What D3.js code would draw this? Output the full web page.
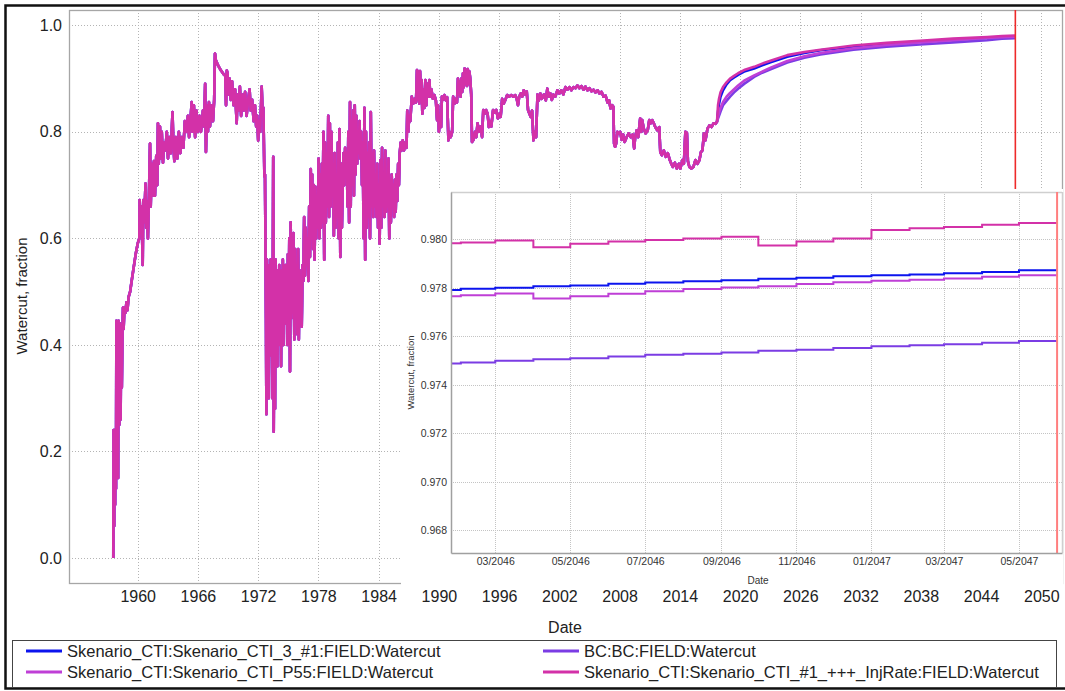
<!DOCTYPE html>
<html>
<head>
<meta charset="utf-8">
<script src="https://cdn.jsdelivr.net/npm/d3@7"></script>
<style>
  body { margin: 0; background: #ffffff; }
  svg { display: block; font-family: "Liberation Sans", Arial, sans-serif; }
</style>
</head>
<body>
<script>
// ---------- data ----------
const seriesNames = [
  "Skenario_CTI:Skenario_CTI_3_#1:FIELD:Watercut",
  "BC:BC:FIELD:Watercut",
  "Skenario_CTI:Skenario_CTI_P55:FIELD:Watercut",
  "Skenario_CTI:Skenario_CTI_#1_+++_InjRate:FIELD:Watercut"
];

const yearTicks = [1960, 1966, 1972, 1978, 1984, 1990, 1996, 2002, 2008, 2014, 2020, 2026, 2032, 2038, 2044, 2050];
const watercutTicks = [0.0, 0.2, 0.4, 0.6, 0.8, 1.0];
const zoomWatercutTicks = [0.968, 0.970, 0.972, 0.974, 0.976, 0.978, 0.980];
const zoomMonthTicks = ["2046-03", "2046-05", "2046-07", "2046-09", "2046-11", "2047-01", "2047-03", "2047-05"];
const simulationEnd = "2047-06-01";

// shared field history (decimal year, watercut)
const history = [
  [1957.57,0.00],[1957.60,0.24],[1957.66,0.06],[1957.70,0.24],[1957.75,0.10],[1957.80,0.24],[1957.84,0.13],
  [1957.88,0.445],[1957.95,0.20],[1958.00,0.44],[1958.05,0.15],[1958.10,0.445],[1958.17,0.25],[1958.24,0.44],
  [1958.30,0.26],[1958.36,0.43],[1958.42,0.32],[1958.48,0.42],[1958.54,0.47],[1958.60,0.43],[1958.68,0.47],
  [1958.78,0.46],[1958.88,0.48],[1958.98,0.465],[1959.10,0.49],[1959.25,0.50],[1959.40,0.52],[1959.60,0.545],
  [1959.80,0.57],[1960.00,0.59],[1960.16,0.60],
  [1960.20,0.672],[1960.30,0.61],[1960.38,0.66],[1960.50,0.55],[1960.56,0.672],[1960.65,0.63],[1960.78,0.703],
  [1960.85,0.62],[1960.92,0.67],[1961.02,0.60],[1961.10,0.66],[1961.23,0.778],[1961.30,0.66],[1961.40,0.74],
  [1961.50,0.68],[1961.62,0.745],[1961.72,0.68],[1961.85,0.755],[1961.95,0.70],[1962.02,0.816],[1962.10,0.74],
  [1962.22,0.81],[1962.30,0.75],[1962.40,0.80],[1962.52,0.742],[1962.62,0.78],[1962.75,0.765],[1962.90,0.80],
  [1963.02,0.75],[1963.15,0.79],[1963.30,0.76],[1963.47,0.837],[1963.55,0.78],[1963.65,0.745],[1963.80,0.79],
  [1963.95,0.75],[1964.10,0.80],[1964.25,0.76],[1964.40,0.79],[1964.55,0.77],[1964.70,0.82],[1964.85,0.80],
  [1965.00,0.83],[1965.12,0.79],[1965.25,0.82],[1965.38,0.856],[1965.45,0.80],[1965.60,0.85],[1965.72,0.79],
  [1965.85,0.84],[1966.00,0.80],[1966.15,0.83],[1966.30,0.80],[1966.50,0.84],[1966.62,0.81],[1966.72,0.89],
  [1966.80,0.762],[1966.90,0.85],[1967.00,0.80],[1967.10,0.856],[1967.20,0.81],[1967.35,0.85],[1967.50,0.82],
  [1967.62,0.86],[1967.70,0.947],
  [1967.78,0.935],[1968.00,0.925],[1968.30,0.915],[1968.60,0.907],[1968.72,0.906],[1968.80,0.85],[1968.88,0.915],
  [1968.95,0.91],[1969.05,0.87],[1969.15,0.90],[1969.28,0.86],[1969.40,0.895],[1969.55,0.85],[1969.70,0.88],
  [1969.86,0.816],[1969.95,0.87],[1970.05,0.84],[1970.18,0.885],[1970.30,0.83],[1970.45,0.87],[1970.58,0.84],
  [1970.70,0.875],[1970.85,0.83],[1971.00,0.86],[1971.15,0.88],[1971.25,0.84],[1971.40,0.86],[1971.55,0.82],
  [1971.68,0.85],[1971.80,0.81],[1971.90,0.83],[1972.00,0.784],[1972.10,0.82],[1972.20,0.80],[1972.35,0.885],
  [1972.45,0.83],[1972.52,0.845],[1972.62,0.716],[1972.68,0.72],
  [1972.78,0.45],[1972.82,0.27],[1972.88,0.56],[1972.94,0.33],[1973.00,0.52],[1973.06,0.30],[1973.12,0.55],
  [1973.18,0.38],[1973.24,0.56],[1973.30,0.42],[1973.36,0.50],[1973.42,0.30],[1973.50,0.753],[1973.55,0.237],
  [1973.62,0.52],[1973.68,0.28],[1973.74,0.56],[1973.80,0.40],[1973.86,0.54],[1973.92,0.36],[1973.98,0.50],
  [1974.04,0.40],[1974.10,0.55],[1974.16,0.45],[1974.22,0.54],[1974.28,0.36],[1974.34,0.52],[1974.40,0.42],
  [1974.46,0.56],[1974.52,0.40],[1974.58,0.51],[1974.64,0.44],[1974.72,0.55],[1974.78,0.45],[1974.84,0.52],
  [1974.90,0.40],[1974.96,0.57],[1975.02,0.42],[1975.10,0.60],[1975.17,0.35],[1975.24,0.63],[1975.30,0.45],
  [1975.38,0.58],[1975.45,0.46],[1975.52,0.61],[1975.60,0.41],[1975.68,0.58],[1975.75,0.45],[1975.82,0.55],
  [1975.90,0.42],[1975.98,0.58],[1976.05,0.41],[1976.12,0.54],[1976.20,0.44],[1976.28,0.52],[1976.34,0.434],
  [1976.42,0.55],[1976.50,0.52],[1976.58,0.64],[1976.66,0.53],[1976.74,0.62],[1976.82,0.55],[1976.90,0.60],
  [1977.00,0.52],[1977.08,0.66],[1977.16,0.565],[1977.24,0.73],[1977.30,0.60],[1977.38,0.72],[1977.46,0.58],
  [1977.54,0.70],[1977.62,0.56],[1977.70,0.697],[1977.78,0.60],[1977.86,0.68],[1977.94,0.62],[1978.02,0.75],
  [1978.10,0.60],[1978.18,0.72],[1978.26,0.62],[1978.34,0.74],[1978.42,0.63],[1978.50,0.80],[1978.58,0.56],
  [1978.66,0.78],[1978.74,0.63],[1978.82,0.76],[1978.90,0.66],[1978.98,0.83],[1979.06,0.64],[1979.14,0.816],
  [1979.22,0.66],[1979.30,0.80],[1979.38,0.68],[1979.46,0.74],[1979.54,0.605],[1979.62,0.76],[1979.70,0.62],
  [1979.78,0.72],[1979.86,0.64],[1979.94,0.78],[1980.02,0.60],[1980.10,0.805],[1980.18,0.565],[1980.26,0.74],
  [1980.34,0.62],[1980.42,0.70],[1980.50,0.76],[1980.58,0.70],[1980.66,0.77],[1980.74,0.72],[1980.82,0.76],
  [1980.90,0.66],[1980.98,0.80],[1981.06,0.63],[1981.15,0.856],[1981.22,0.66],[1981.30,0.82],[1981.38,0.70],
  [1981.46,0.84],[1981.54,0.68],[1981.62,0.85],[1981.70,0.72],[1981.78,0.83],[1981.86,0.74],[1981.94,0.80],
  [1982.02,0.76],[1982.10,0.82],[1982.18,0.75],[1982.26,0.80],[1982.34,0.70],[1982.42,0.78],[1982.50,0.60],
  [1982.58,0.845],[1982.66,0.56],[1982.74,0.80],[1982.82,0.62],[1982.90,0.76],[1982.98,0.64],[1983.06,0.78],
  [1983.14,0.60],[1983.22,0.837],[1983.30,0.66],[1983.38,0.76],[1983.46,0.64],[1983.54,0.765],[1983.62,0.66],
  [1983.70,0.72],[1983.78,0.64],[1983.86,0.74],[1983.94,0.62],[1984.02,0.70],[1984.10,0.59],[1984.18,0.747],
  [1984.26,0.62],[1984.34,0.77],[1984.42,0.66],[1984.50,0.72],[1984.58,0.64],[1984.66,0.765],[1984.74,0.65],
  [1984.82,0.70],[1984.90,0.66],[1984.98,0.75],[1985.06,0.60],[1985.14,0.71],[1985.22,0.63],[1985.30,0.72],
  [1985.38,0.66],[1985.46,0.70],[1985.54,0.64],[1985.62,0.71],[1985.70,0.65],[1985.78,0.72],[1985.86,0.67],
  [1985.94,0.74],[1986.02,0.70],[1986.10,0.76],
  [1986.20,0.78],[1986.30,0.765],[1986.40,0.784],[1986.52,0.765],[1986.65,0.78],[1986.78,0.77],[1986.85,0.84],
  [1986.95,0.80],[1987.05,0.83],[1987.15,0.82],[1987.30,0.866],[1987.45,0.853],[1987.60,0.862],[1987.72,0.855],
  [1987.82,0.916],[1987.90,0.86],[1987.98,0.913],[1988.05,0.853],[1988.12,0.914],[1988.20,0.88],[1988.28,0.897],
  [1988.35,0.834],[1988.45,0.88],[1988.55,0.845],[1988.65,0.897],[1988.75,0.85],[1988.85,0.89],[1988.95,0.866],
  [1989.05,0.897],[1989.15,0.866],[1989.25,0.88],[1989.40,0.862],[1989.55,0.869],[1989.70,0.859],[1989.82,0.822],
  [1989.92,0.85],[1990.00,0.80],[1990.12,0.83],[1990.22,0.809],[1990.30,0.866],[1990.42,0.86],[1990.55,0.869],
  [1990.70,0.859],[1990.82,0.865],[1990.95,0.784],[1991.05,0.80],[1991.18,0.79],[1991.32,0.80],[1991.42,0.866],
  [1991.55,0.853],[1991.68,0.862],[1991.80,0.855],[1991.90,0.90],[1992.00,0.87],[1992.08,0.895],[1992.16,0.866],
  [1992.24,0.90],[1992.32,0.875],[1992.40,0.91],[1992.48,0.884],[1992.56,0.919],[1992.64,0.89],[1992.72,0.916],
  [1992.80,0.886],[1992.88,0.918],[1992.96,0.89],[1993.04,0.913],[1993.12,0.90],[1993.22,0.87],[1993.30,0.781],
  [1993.45,0.785],[1993.60,0.80],[1993.72,0.79],[1993.85,0.816],[1994.00,0.80],[1994.15,0.81],[1994.30,0.79],
  [1994.42,0.841],[1994.55,0.834],[1994.70,0.841],[1994.85,0.834],[1994.98,0.809],[1995.10,0.82],[1995.22,0.81],
  [1995.40,0.841],[1995.55,0.836],[1995.72,0.841],[1995.88,0.825],[1996.02,0.834],[1996.15,0.828],[1996.30,0.862],
  [1996.45,0.853],[1996.62,0.86],[1996.80,0.869],[1997.00,0.866],[1997.20,0.869],[1997.40,0.866],[1997.60,0.869],
  [1997.75,0.862],[1997.88,0.85],[1998.00,0.866],[1998.15,0.872],[1998.30,0.866],[1998.45,0.878],[1998.60,0.87],
  [1998.75,0.876],[1998.88,0.841],[1999.00,0.835],[1999.15,0.828],[1999.28,0.84],[1999.42,0.784],[1999.55,0.80],
  [1999.68,0.79],[1999.82,0.87],[1999.95,0.859],[2000.10,0.872],[2000.25,0.862],[2000.45,0.87],[2000.65,0.859],
  [2000.80,0.881],[2000.95,0.866],[2001.10,0.872],[2001.25,0.86],[2001.40,0.87],[2001.60,0.866],[2001.80,0.878],
  [2002.00,0.872],[2002.20,0.878],[2002.40,0.87],[2002.60,0.884],[2002.80,0.879],[2003.00,0.884],[2003.20,0.878],
  [2003.40,0.884],[2003.60,0.882],[2003.80,0.887],[2004.00,0.882],[2004.20,0.886],[2004.40,0.879],[2004.60,0.885],
  [2004.80,0.878],[2005.00,0.882],[2005.20,0.876],[2005.40,0.879],[2005.60,0.874],[2005.80,0.878],[2006.00,0.872],
  [2006.20,0.875],[2006.40,0.866],[2006.60,0.868],[2006.80,0.855],[2006.95,0.859],[2007.10,0.844],[2007.25,0.85],
  [2007.38,0.847],[2007.45,0.778],[2007.55,0.772],[2007.65,0.778],[2007.78,0.80],[2007.92,0.797],
  [2008.05,0.80],[2008.20,0.785],[2008.35,0.795],[2008.50,0.781],[2008.70,0.79],[2008.90,0.797],[2009.10,0.79],
  [2009.30,0.795],[2009.45,0.769],[2009.55,0.79],[2009.70,0.803],[2009.85,0.79],[2010.05,0.825],[2010.15,0.80],
  [2010.25,0.822],[2010.40,0.806],[2010.60,0.797],[2010.80,0.803],[2010.95,0.822],[2011.10,0.816],[2011.25,0.822],
  [2011.40,0.816],[2011.55,0.809],[2011.75,0.803],[2011.95,0.809],[2012.05,0.762],[2012.20,0.756],[2012.40,0.765],
  [2012.60,0.753],[2012.80,0.76],[2013.00,0.747],[2013.15,0.74],[2013.30,0.734],[2013.50,0.742],[2013.70,0.731],
  [2013.90,0.74],[2014.05,0.731],[2014.25,0.747],[2014.40,0.74],[2014.55,0.80],[2014.62,0.76],[2014.70,0.798],
  [2014.80,0.745],[2014.95,0.734],[2015.15,0.731],[2015.35,0.734],[2015.55,0.747],[2015.75,0.74],[2015.95,0.747],
  [2016.10,0.762],[2016.25,0.765],[2016.40,0.797],[2016.55,0.784],[2016.75,0.806],[2016.95,0.812],[2017.15,0.809],
  [2017.35,0.816],[2017.55,0.815],[2017.70,0.819]
];

// forecast period, one value list per case (same order as seriesNames)
const forecastYears = [2017.70, 2017.80, 2017.90, 2018.05, 2018.30, 2018.65, 2019.00, 2019.40, 2019.80, 2020.40,
  2021.40, 2022.20, 2023.10, 2024.70, 2026.40, 2028.00, 2031.30, 2034.60, 2037.90, 2041.20, 2044.60, 2046.08, 2047.41];
const forecastCTI3 =    [0.819, 0.838, 0.852, 0.866, 0.878, 0.889, 0.897, 0.902, 0.907, 0.913, 0.919, 0.925, 0.931,
  0.941, 0.948, 0.953, 0.960, 0.965, 0.969, 0.973, 0.976, 0.9779, 0.9787];
const forecastBC =      [0.819, 0.825, 0.830, 0.838, 0.850, 0.858, 0.866, 0.874, 0.881, 0.890, 0.903, 0.911, 0.918,
  0.930, 0.939, 0.945, 0.954, 0.960, 0.964, 0.968, 0.972, 0.9749, 0.9758];
const forecastP55 =     [0.819, 0.828, 0.836, 0.845, 0.856, 0.866, 0.873, 0.880, 0.887, 0.896, 0.906, 0.913, 0.921,
  0.933, 0.942, 0.948, 0.957, 0.963, 0.968, 0.972, 0.976, 0.9777, 0.9785];
const forecastInjRate = [0.819, 0.850, 0.862, 0.874, 0.884, 0.893, 0.900, 0.905, 0.910, 0.916, 0.922, 0.928, 0.934,
  0.944, 0.950, 0.954, 0.962, 0.967, 0.971, 0.975, 0.978, 0.9798, 0.9807];

// monthly values for the last simulated months
const zoomMonths = ["2046-01", "2046-02", "2046-03", "2046-04", "2046-05", "2046-06", "2046-07", "2046-08", "2046-09",
  "2046-10", "2046-11", "2046-12", "2047-01", "2047-02", "2047-03", "2047-04", "2047-05"];
const zoomCTI3 =    [0.97791, 0.97797, 0.97801, 0.97807, 0.97810, 0.97817, 0.97822, 0.97828, 0.97832, 0.97838, 0.97842,
  0.97848, 0.97852, 0.97856, 0.97861, 0.97866, 0.97873];
const zoomBC =      [0.97488, 0.97492, 0.97499, 0.97506, 0.97510, 0.97517, 0.97524, 0.97528, 0.97534, 0.97541, 0.97545,
  0.97552, 0.97559, 0.97563, 0.97568, 0.97574, 0.97581];
const zoomP55 =     [0.97766, 0.97770, 0.97777, 0.97756, 0.97766, 0.97776, 0.97786, 0.97796, 0.97802, 0.97807, 0.97816,
  0.97823, 0.97830, 0.97834, 0.97839, 0.97846, 0.97852];
const zoomInjRate = [0.97984, 0.97988, 0.97996, 0.97968, 0.97982, 0.97992, 0.97998, 0.98004, 0.98011, 0.97975, 0.97992,
  0.98004, 0.98039, 0.98046, 0.98052, 0.98061, 0.98068];

// ---------- styles ----------
const seriesColors = ["#0c14ee", "#7b3ce4", "#bf3fd6", "#d331a8"];
const forecasts = [forecastCTI3, forecastBC, forecastP55, forecastInjRate];
const zoomValues = [zoomCTI3, zoomBC, zoomP55, zoomInjRate];

const parseMonth = d3.utcParse("%Y-%m");
const parseDay = d3.utcParse("%Y-%m-%d");
const endDate = parseDay(simulationEnd);
const endYear = 2047 + d3.utcDay.count(d3.utcYear(endDate), endDate) / 365;

const series = seriesNames.map((name, i) => ({
  name,
  color: seriesColors[i],
  main: history.concat(forecastYears.map((y, j) => [y, forecasts[i][j]])),
  zoom: zoomMonths.map((m, j) => [parseMonth(m), zoomValues[i][j]])
          .concat([[endDate, zoomValues[i][zoomValues[i].length - 1]]])
}));

// ---------- canvas ----------
const W = 1065, H = 691;
const svg = d3.select("body").append("svg").attr("width", W).attr("height", H);
svg.append("rect").attr("width", W).attr("height", H).attr("fill", "#ffffff");

// outer frame
svg.append("rect").attr("x", 5.5).attr("y", 5.5).attr("width", 1070).attr("height", 683)
  .attr("fill", "none").attr("stroke", "#111").attr("stroke-width", 2.5);

// ---------- main plot ----------
const mp = { l: 69, t: 10, r: 1062, b: 583 };
const xMain = d3.scaleLinear().domain([1953.16, 2052.06]).range([mp.l, mp.r]);
const yMain = d3.scaleLinear().domain([-0.047, 1.0287]).range([mp.b, mp.t]);

const defs = svg.append("defs");
defs.append("clipPath").attr("id", "clipMain").append("rect")
  .attr("x", mp.l).attr("y", mp.t).attr("width", mp.r - mp.l).attr("height", mp.b - mp.t);

const gridMain = svg.append("g");
gridMain.selectAll("line.v").data(yearTicks).join("line")
  .attr("x1", d => Math.round(xMain(d)) + 0.5).attr("x2", d => Math.round(xMain(d)) + 0.5)
  .attr("y1", mp.t).attr("y2", mp.b)
  .attr("stroke", "#b4b4b4").attr("stroke-width", 1).attr("stroke-dasharray", "1,2");
gridMain.selectAll("line.h").data(watercutTicks).join("line")
  .attr("x1", mp.l).attr("x2", mp.r)
  .attr("y1", d => Math.round(yMain(d)) + 0.5).attr("y2", d => Math.round(yMain(d)) + 0.5)
  .attr("stroke", "#b4b4b4").attr("stroke-width", 1).attr("stroke-dasharray", "1,2");

svg.append("rect").attr("x", mp.l + 0.5).attr("y", mp.t + 0.5)
  .attr("width", mp.r - mp.l).attr("height", mp.b - mp.t)
  .attr("fill", "none").attr("stroke", "#a6a6a6").attr("stroke-width", 1.3);

const lineMain = d3.line().x(d => xMain(d[0])).y(d => yMain(d[1]));
const mainLines = svg.append("g").attr("clip-path", "url(#clipMain)");
mainLines.selectAll("path").data(series).join("path")
  .attr("d", d => lineMain(d.main))
  .attr("fill", "none").attr("stroke", d => d.color)
  .attr("stroke-width", 2.6).attr("stroke-linejoin", "round");

mainLines.append("line")
  .attr("x1", xMain(endYear)).attr("x2", xMain(endYear))
  .attr("y1", mp.t).attr("y2", mp.b)
  .attr("stroke", "#ee2a2a").attr("stroke-width", 1.6);

// ---------- zoomed panel ----------
svg.append("rect").attr("x", 401).attr("y", 189).attr("width", 662).attr("height", 397).attr("fill", "#ffffff");

const ip = { l: 451, t: 192, r: 1062, b: 553 };
const xZoom = d3.scaleUtc().domain([parseDay("2046-01-24"), parseDay("2047-06-05")]).range([ip.l, ip.r]);
const yZoom = d3.scaleLinear().domain([0.96706, 0.98196]).range([ip.b, ip.t]);

defs.append("clipPath").attr("id", "clipZoom").append("rect")
  .attr("x", ip.l).attr("y", ip.t).attr("width", ip.r - ip.l).attr("height", ip.b - ip.t);

const monthTickDates = zoomMonthTicks.map(parseMonth);
const gridZoom = svg.append("g");
gridZoom.selectAll("line.v").data(monthTickDates).join("line")
  .attr("x1", d => Math.round(xZoom(d)) + 0.5).attr("x2", d => Math.round(xZoom(d)) + 0.5)
  .attr("y1", ip.t).attr("y2", ip.b)
  .attr("stroke", "#c4c4c4").attr("stroke-width", 1).attr("stroke-dasharray", "1,1");
gridZoom.selectAll("line.h").data(zoomWatercutTicks).join("line")
  .attr("x1", ip.l).attr("x2", ip.r)
  .attr("y1", d => Math.round(yZoom(d)) + 0.5).attr("y2", d => Math.round(yZoom(d)) + 0.5)
  .attr("stroke", "#c4c4c4").attr("stroke-width", 1).attr("stroke-dasharray", "1,1");

// panel frame: light top/right, darker axes
svg.append("line").attr("x1", ip.l).attr("x2", ip.r).attr("y1", ip.t + 0.5).attr("y2", ip.t + 0.5)
  .attr("stroke", "#cfcfcf").attr("stroke-width", 1.5);
svg.append("line").attr("x1", ip.r + 0.5).attr("x2", ip.r + 0.5).attr("y1", ip.t).attr("y2", ip.b)
  .attr("stroke", "#cfcfcf").attr("stroke-width", 1.5);

const lineZoom = d3.line().x(d => xZoom(d[0])).y(d => yZoom(d[1])).curve(d3.curveStepAfter);
const zoomLines = svg.append("g").attr("clip-path", "url(#clipZoom)");
zoomLines.selectAll("path").data(series).join("path")
  .attr("d", d => lineZoom(d.zoom))
  .attr("fill", "none").attr("stroke", d => d.color).attr("stroke-width", 2);

zoomLines.append("line")
  .attr("x1", xZoom(endDate)).attr("x2", xZoom(endDate))
  .attr("y1", ip.t).attr("y2", ip.b)
  .attr("stroke", "#ff7f7f").attr("stroke-width", 2);

const axZoomY = svg.append("g").attr("transform", `translate(${ip.l},0)`)
  .call(d3.axisLeft(yZoom).tickValues(zoomWatercutTicks).tickFormat(d3.format(".3f")).tickSize(0).tickPadding(4));
const axZoomX = svg.append("g").attr("transform", `translate(0,${ip.b})`)
  .call(d3.axisBottom(xZoom).tickValues(monthTickDates).tickFormat(d3.utcFormat("%m/%Y")).tickSize(0).tickPadding(5));
[axZoomY, axZoomX].forEach(g => {
  g.select(".domain").attr("stroke", "#a0a0a0").attr("stroke-width", 1.5);
  g.selectAll("text").attr("font-size", 10.5).attr("fill", "#333").attr("font-family", "Liberation Sans, Arial, sans-serif");
});

svg.append("text").attr("transform", `translate(414,${(ip.t + ip.b) / 2}) rotate(-90)`)
  .attr("text-anchor", "middle").attr("font-size", 9.5).attr("fill", "#333").text("Watercut, fraction");
svg.append("text").attr("x", 758).attr("y", 584).attr("text-anchor", "middle")
  .attr("font-size", 10).attr("fill", "#333").text("Date");

// ---------- main axes labels ----------
const axMainY = svg.append("g").attr("transform", `translate(${mp.l},0)`)
  .call(d3.axisLeft(yMain).tickValues(watercutTicks).tickFormat(d3.format(".1f")).tickSize(0).tickPadding(7));
const axMainX = svg.append("g").attr("transform", `translate(0,${mp.b})`)
  .call(d3.axisBottom(xMain).tickValues(yearTicks).tickFormat(d3.format("d")).tickSize(0).tickPadding(8));
[axMainY, axMainX].forEach(g => {
  g.select(".domain").remove();
  g.selectAll("text").attr("font-size", 16).attr("fill", "#222").attr("font-family", "Liberation Sans, Arial, sans-serif");
});

svg.append("text").attr("transform", "translate(27,296) rotate(-90)")
  .attr("text-anchor", "middle").attr("font-size", 15).attr("fill", "#222").text("Watercut, fraction");
svg.append("text").attr("x", 565).attr("y", 633).attr("text-anchor", "middle")
  .attr("font-size", 16).attr("fill", "#222").text("Date");

// ---------- legend ----------
svg.append("rect").attr("x", 12.5).attr("y", 640.5).attr("width", 1044).attr("height", 47)
  .attr("fill", "#ffffff").attr("stroke", "#444").attr("stroke-width", 1);

const legendPos = [[26, 651], [543, 651], [26, 672], [543, 672]];
const legend = svg.append("g").selectAll("g").data(series).join("g")
  .attr("transform", (d, i) => `translate(${legendPos[i][0]},${legendPos[i][1]})`);
legend.append("line").attr("x1", 0).attr("x2", 36).attr("y1", 0).attr("y2", 0)
  .attr("stroke", d => d.color).attr("stroke-width", 3);
legend.append("text").attr("x", 41).attr("y", 0).attr("dy", "0.35em")
  .attr("font-size", 16.5).attr("fill", "#222").text(d => d.name);
</script>
</body>
</html>
